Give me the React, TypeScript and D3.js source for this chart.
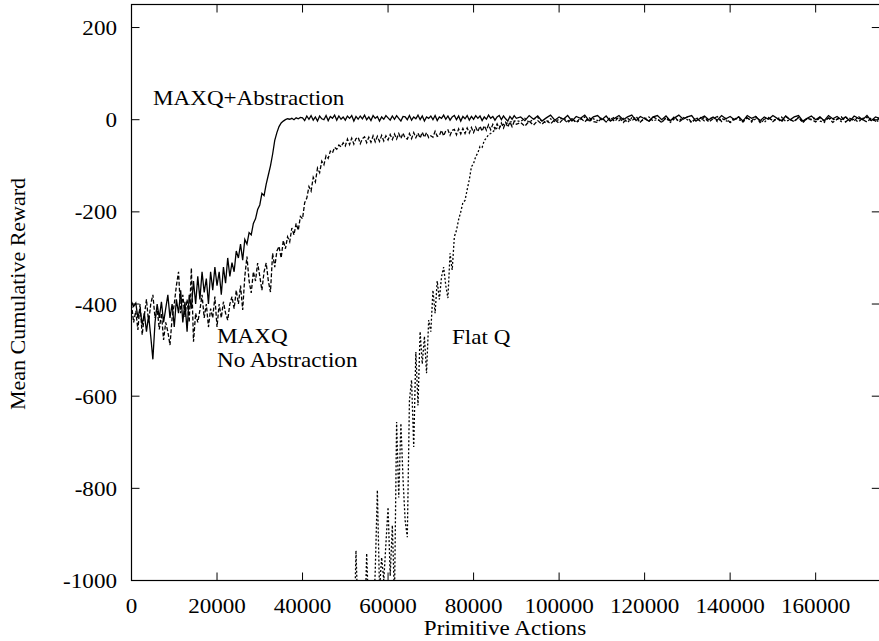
import React from 'react';
import * as d3 from 'd3';

const W = 879;
const H = 641;
const plot = { left: 131.5, right: 879.8, top: 4.5, bottom: 580.5 };
const FONT = '"Liberation Serif", "Times New Roman", serif';

const xTicks = [0, 20000, 40000, 60000, 80000, 100000, 120000, 140000, 160000];
const yTicks = [-1000, -800, -600, -400, -200, 0, 200];

// sampling of the curves: fine part every 500 actions, then every 1000
const FINE_STEP = 500;
const COARSE_STEP = 1000;
const COARSE_START = 91000;
const FLATQ_START = 50000;

// MAXQ + Abstraction (solid), x = 0 .. 90000
const solidFine = [
  -395, -405, -398, -430, -410, -445, -420, -460, -425, -470, -520, -440, -400, -430, -395, -440, -410, -380, -430, -400,
  -450, -390, -420, -370, -440, -395, -460, -380, -410, -350, -400, -340, -390, -330, -375, -345, -400, -330, -370, -320,
  -360, -330, -380, -320, -355, -300, -340, -310, -330, -285, -300, -270, -305, -260, -270, -245, -250, -225, -215, -195,
  -185, -160, -165, -140, -120, -100, -75, -45, -28, -15, -7, -3, 0, 2, 1, 3, 0, 4, 2, 5,
  4, -2, 8, 1, 9, -1, 6, -3, 8, 2, 0, 9, -2, 7, 3, 10, -1, 8, 1, 6,
  -1, 8, 3, 9, -3, 7, 1, 8, 2, 10, 0, 6, -2, 9, 3, 7, -3, 6, 1, 9,
  4, -1, 8, 1, 9, 3, -3, 7, 6, 0, 9, -1, 6, 2, 10, 0, 8, -3, 6, 3,
  8, 0, 9, -2, 6, 3, 10, 1, 8, -1, 6, 9, 0, 8, -3, 7, 2, 9, -1, 7,
  1, 9, 3, 8, -2, 6, 1, 10, 3, 7, -1, 6, 9, 0, 8, 2, -3, 7, 1, 9,
  3,
];
// x = 91000 .. 175000
const solidCoarse = [
  6, -2, 9, 1, 8, -3, 4, 10, -1, 6,
  1, 9, -3, 7, 3, 10, -2, 6, 9, 0,
  8, -3, 3, 9, 0, 6, 10, -2, 7, 2,
  -3, 6, 9, 0, 8, -2, 4, 10, 1, 6,
  9, -3, 3, 8, 0, 6, -1, 9, 2, 7,
  0, 6, -3, 9, 3, 7, -2, 6, 1, 9,
  3, -2, 8, 0, 6, 9, -3, 3, 8, 0,
  6, -2, 9, 2, 7, 0, 6, -3, 8, 3,
  0, 9, -2, 6, 3,
];

// MAXQ No Abstraction (dashed), x = 0 .. 90000
const dashedFine = [
  -400, -440, -415, -456, -400, -467, -425, -390, -440, -400, -380, -430, -410, -455, -420, -478, -440, -460, -489, -430,
  -400, -360, -330, -420, -380, -428, -390, -440, -322, -482, -420, -440, -413, -380, -430, -400, -450, -410, -430, -384,
  -450, -400, -430, -395, -420, -435, -400, -384, -410, -370, -400, -360, -413, -340, -297, -350, -376, -330, -350, -311,
  -340, -370, -330, -311, -350, -374, -290, -320, -285, -275, -300, -262, -280, -254, -265, -235, -250, -225, -240, -210,
  -215, -180, -170, -145, -155, -125, -135, -105, -115, -90, -98, -78, -84, -68, -72, -60, -64, -55, -59, -50,
  -57, -42, -54, -40, -53, -41, -38, -52, -41, -37, -50, -38, -49, -35, -48, -36, -47, -34, -46, -35,
  -44, -32, -43, -31, -42, -30, -41, -29, -40, -42, -30, -41, -28, -39, -29, -40, -27, -38, -28, -39,
  -35, -38, -25, -36, -34, -23, -35, -24, -22, -34, -23, -21, -33, -20, -31, -19, -30, -18, -29, -17,
  -28, -16, -26, -14, -25, -13, -23, -11, -22, -10, -20, -9, -19, -7, -18, -6, -16, -5, -15, -4,
  -10,
];
// x = 91000 .. 175000
const dashedCoarse = [
  -6, -14, -3, -12, -2, -10, -1, -9, 0, -8,
  2, -7, 3, -6, 4, -5, 5, -4, -6, 4,
  -5, 5, -4, 6, -6, 3, -3, 7, -5, 4,
  -4, 6, 1, -6, 4, -3, 7, -5, 2, 6,
  -6, 4, -3, 6, -5, 2, 7, -4, 3, -6,
  1, 6, -5, 4, -3, 7, -6, 1, 5, -4,
  3, -5, 7, 0, -4, 5, -6, 3, 1, -5,
  5, -3, 4, -6, 1, 6, -5, 3, -3, 7,
  0, -5, 4, -3, 5,
];

// Flat Q (dotted), x = 50000 .. 90000 (earlier values are below the axis)
const flatQFine = [
  -1150, -1120, -1180, -1100, -1140, -935, -1090, -1150, -1060, -1120, -941, -1080, -1030, -1100, -980, -804, -1020, -950, -1000, -920,
  -841, -990, -880, -1040, -656, -820, -659, -780, -870, -906, -609, -565, -710, -504, -620, -460, -530, -470, -550, -435,
  -460, -370, -420, -350, -390, -341, -320, -360, -387, -290, -326, -254, -240, -217, -200, -180, -175, -152, -130, -102,
  -95, -80, -72, -58, -60, -45, -40, -32, -30, -26, -22, -18, -17, -12, -10, -8, -7, -5, -4, -3,
  -2,
];
// x = 91000 .. 175000
const flatQCoarse = [
  -4, 3, -6, 1, 5, -3, -7, 2, -4, 1,
  4, -3, 2, -6, 0, 6, -4, 2, -2, 5,
  -5, 0, 6, -2, 3, -6, 4, 0, -4, 2,
  6, -3, 1, -5, 4, -6, 2, -2, 5, 0,
  -6, 2, 5, -3, 0, 6, -4, 3, -2, -6,
  4, 0, -3, 6, -5, 2, 0, -6, 4, -2,
  2, 6, -4, 0, -3, 5, -6, 2, 0, 4,
  -3, -6, 5, 0, 2, -4, 6, -2, 1, -5,
  3, 5, -2, 0, -6,
];

const toPoints = (start: number, step: number, values: number[]) =>
  values.map((v, i) => [start + i * step, v] as [number, number]);

const series = [
  {
    name: 'flatQ',
    dash: '2,2',
    points: [...toPoints(FLATQ_START, FINE_STEP, flatQFine), ...toPoints(COARSE_START, COARSE_STEP, flatQCoarse)],
  },
  {
    name: 'maxqNoAbs',
    dash: '4,2',
    points: [...toPoints(0, FINE_STEP, dashedFine), ...toPoints(COARSE_START, COARSE_STEP, dashedCoarse)],
  },
  {
    name: 'maxqAbs',
    dash: undefined,
    points: [...toPoints(0, FINE_STEP, solidFine), ...toPoints(COARSE_START, COARSE_STEP, solidCoarse)],
  },
];

const x = d3.scaleLinear().domain([0, 175000]).range([plot.left, plot.right]);
const y = d3.scaleLinear().domain([-1000, 250]).range([plot.bottom, plot.top]);

const line = d3
  .line<[number, number]>()
  .x((d) => x(d[0]))
  .y((d) => y(d[1]));

const TICK = 8;
const SX = 1.05; // the original text is slightly wider than the font

const Label = ({ tx, ty, anchor = 'start', children }: any) => (
  <text
    transform={`translate(${tx},${ty}) scale(${SX},1)`}
    textAnchor={anchor}
    fontFamily={FONT}
    fontSize={22}
    fill="#000"
  >
    {children}
  </text>
);

export default function App() {
  return (
    <svg
      width={W}
      height={H}
      style={{ position: 'absolute', left: 0, top: 0, background: '#fff' }}
    >
      <defs>
        <clipPath id="plotClip">
          <rect x={plot.left} y={plot.top} width={plot.right - plot.left} height={plot.bottom - plot.top} />
        </clipPath>
      </defs>

      {/* frame */}
      <rect
        x={plot.left}
        y={plot.top}
        width={plot.right - plot.left}
        height={plot.bottom - plot.top}
        fill="none"
        stroke="#000"
        strokeWidth={1.2}
      />

      {/* ticks, mirrored on all sides */}
      <g stroke="#000" strokeWidth={1}>
        {xTicks.map((t) => (
          <g key={'x' + t}>
            <line x1={x(t)} x2={x(t)} y1={plot.bottom} y2={plot.bottom - TICK} />
            <line x1={x(t)} x2={x(t)} y1={plot.top} y2={plot.top + TICK} />
          </g>
        ))}
        {yTicks.map((t) => (
          <g key={'y' + t}>
            <line x1={plot.left} x2={plot.left + TICK} y1={y(t)} y2={y(t)} />
            <line x1={plot.right} x2={plot.right - TICK} y1={y(t)} y2={y(t)} />
          </g>
        ))}
      </g>

      {xTicks.map((t) => (
        <Label key={'xl' + t} tx={x(t)} ty={613} anchor="middle">
          {t}
        </Label>
      ))}
      {yTicks.map((t) => (
        <Label key={'yl' + t} tx={117} ty={y(t) + 7.5} anchor="end">
          {t}
        </Label>
      ))}

      {/* curves */}
      <g clipPath="url(#plotClip)" fill="none" stroke="#000" strokeWidth={1.3}>
        {series.map((s) => (
          <path key={s.name} d={line(s.points) || ''} strokeDasharray={s.dash} />
        ))}
      </g>

      {/* annotations */}
      <Label tx={153} ty={105}>MAXQ+Abstraction</Label>
      <Label tx={217} ty={343}>MAXQ</Label>
      <Label tx={217} ty={367}>No Abstraction</Label>
      <Label tx={452} ty={344}>Flat Q</Label>

      <Label tx={505} ty={635} anchor="middle">Primitive Actions</Label>
      <text
        transform="translate(25,294) rotate(-90)"
        textAnchor="middle"
        fontFamily={FONT}
        fontSize={22}
        fill="#000"
      >
        Mean Cumulative Reward
      </text>
    </svg>
  );
}
